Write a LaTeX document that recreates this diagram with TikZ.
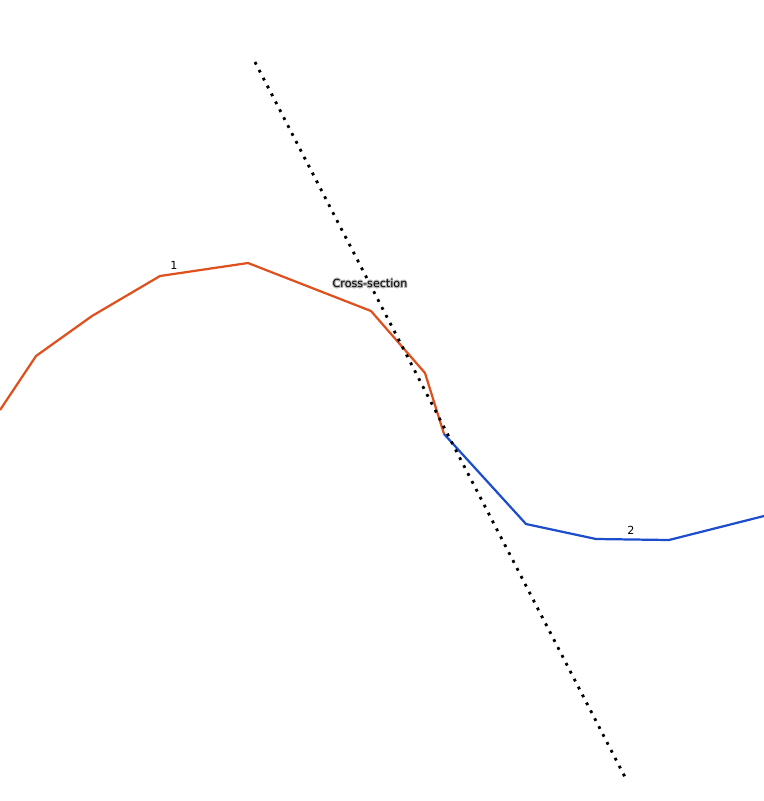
\documentclass[tikz,border=0pt]{standalone}
\usepackage{fontspec}
\setmainfont{DejaVu Sans}
\usepackage{contour}
\contourlength{0.7pt}
\definecolor{LineOne}{RGB}{222,80,30}
\definecolor{LineTwo}{RGB}{28,78,204}
\tikzset{
  route one/.style={LineOne,line width=1.9pt,line join=round},
  route two/.style={LineTwo,line width=1.9pt,line join=round},
  cut/.style={black,line width=2.4pt,dash pattern=on 2.4pt off 5.2pt},
  tag/.style={font=\fontsize{9.5}{11}\selectfont,inner sep=1pt}
}
\begin{document}
\begin{tikzpicture}[x=0.03cm,y=-0.03cm]
\useasboundingbox (0,0) rectangle (764,801);

% Vertices of the first line
\coordinate (a1) at (0,410);
\coordinate (a2) at (36,356);
\coordinate (a3) at (92,316);
\coordinate (a4) at (160,276);
\coordinate (a5) at (248,263);
\coordinate (a6) at (371,311);
\coordinate (a7) at (425,373);
\coordinate (a8) at (444,434);
% Vertices of the second line
\coordinate (b2) at (526,524);
\coordinate (b3) at (596,539);
\coordinate (b4) at (669,540);
\coordinate (b5) at (764,516);
% Ends of the cross-section
\coordinate (c1) at (255,62);
\coordinate (c2) at (626,779);

\draw[route one] (a1)--(a2)--(a3)--(a4)--(a5)--(a6)--(a7)--(a8);
\draw[route two] (a8)--(b2)--(b3)--(b4)--(b5);
\draw[cut] (c1)--(c2);

\node[tag] (n1) at (174,265) {1};
\node[tag] (n2) at (631,530) {2};
\node[tag] (xs) at (370,284) {\contour{gray!55}{Cross-section}};

\end{tikzpicture}
\end{document}
